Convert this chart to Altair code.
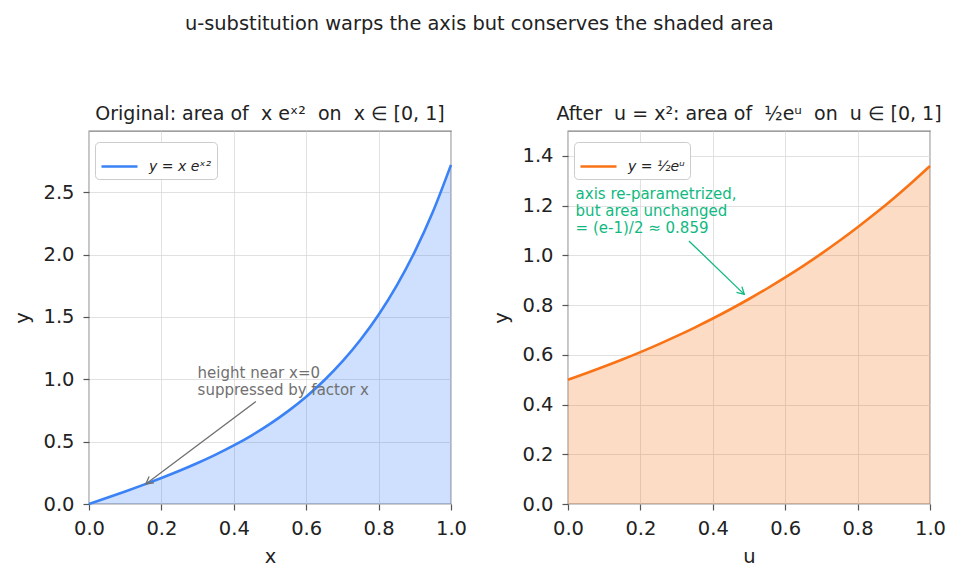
import altair as alt
import pandas as pd

x_vals = [0.0, 0.05, 0.1, 0.15, 0.2, 0.25, 0.3, 0.35, 0.4, 0.45, 0.5,
          0.55, 0.6, 0.65, 0.7, 0.75, 0.8, 0.85, 0.9, 0.95, 1.0]
y_left = [0.0, 0.0501, 0.1010, 0.1534, 0.2082, 0.2661, 0.3283, 0.3956, 0.4694,
          0.5510, 0.6420, 0.7443, 0.8600, 0.9918, 1.1426, 1.3163, 1.5172,
          1.7506, 2.0231, 2.3425, 2.7183]
u_vals = [0.0, 0.05, 0.1, 0.15, 0.2, 0.25, 0.3, 0.35, 0.4, 0.45, 0.5,
          0.55, 0.6, 0.65, 0.7, 0.75, 0.8, 0.85, 0.9, 0.95, 1.0]
y_right = [0.5, 0.5256, 0.5526, 0.5809, 0.6107, 0.6420, 0.6749, 0.7095, 0.7459,
           0.7842, 0.8244, 0.8666, 0.9111, 0.9578, 1.0069, 1.0585, 1.1128,
           1.1699, 1.2298, 1.2929, 1.3591]

x_ticks = [0.0, 0.2, 0.4, 0.6, 0.8, 1.0]
y_ticks_left = [0.0, 0.5, 1.0, 1.5, 2.0, 2.5]
y_ticks_right = [0.0, 0.2, 0.4, 0.6, 0.8, 1.0, 1.2, 1.4]

NB = "\u00a0"
left_label = "y = x eˣ²"
right_label = "y = ½eᵘ"

left_note = ["height near x=0", "suppressed by factor x"]
left_note_pos = [0.30, 1.014]
left_arrow = [0.461, 0.822, 0.157, 0.161]  # tail x, tail y, head x, head y

right_note = ["axis re-parametrized,", "but area unchanged", "= (e-1)/2 ≈ 0.859"]
right_note_pos = [0.021, 1.226]
right_arrow = [0.334, 1.058, 0.487, 0.843]

suptitle = "u-substitution warps the axis but conserves the shaded area"
left_title = f"Original: area of {NB}x eˣ²{NB} on {NB}x ∈ [0, 1]"
right_title = f"After {NB}u = x²: area of {NB}½eᵘ{NB} on {NB}u ∈ [0, 1]"

BLUE = "#3b82f6"
ORANGE = "#f97316"
GREEN = "#10b981"
FONT = "DejaVu Sans"

W, H = 362, 373


def panel(xs, ys, xname, ydomain, yticks, color, label, title,
          note, note_pos, arrow, note_color, arrow_angle):
    df = pd.DataFrame({"x": xs, "y": ys, "series": [label] * len(xs)})
    xenc = alt.X("x:Q", title=xname, scale=alt.Scale(domain=[0, 1], nice=False),
                 axis=alt.Axis(values=x_ticks, format=".1f"))
    yenc = alt.Y("y:Q", title="y", scale=alt.Scale(domain=ydomain, nice=False),
                 axis=alt.Axis(values=yticks, format=".1f"))
    base = alt.Chart(df)
    area = base.mark_area(color=color, opacity=0.25,
                          interpolate="monotone").encode(x=xenc, y=yenc)
    line = base.mark_line(strokeWidth=2.6, interpolate="monotone").encode(
        x=xenc, y=yenc,
        color=alt.Color("series:N",
                        scale=alt.Scale(domain=[label], range=[color]),
                        legend=alt.Legend(title=None, orient="none",
                                          legendX=6, legendY=11)))
    adf = pd.DataFrame({"x": [arrow[0]], "y": [arrow[1]],
                        "x2": [arrow[2]], "y2": [arrow[3]]})
    shaft = alt.Chart(adf).mark_rule(color=note_color, strokeWidth=1.3).encode(
        x="x:Q", y="y:Q", x2="x2:Q", y2="y2:Q")
    head = alt.Chart(adf).mark_point(
        shape="M-0.55,1L0,0L0.55,1", filled=False, size=200,
        strokeWidth=1.3, color=note_color, opacity=1, angle=arrow_angle
    ).encode(x="x2:Q", y="y2:Q")
    tdf = pd.DataFrame({"x": [note_pos[0]], "y": [note_pos[1]], "t": [note]})
    text = alt.Chart(tdf).mark_text(
        align="left", baseline="alphabetic", fontSize=15, font=FONT,
        color=note_color, lineHeight=17
    ).encode(x="x:Q", y="y:Q", text="t")
    return alt.layer(area, line, shaft, head, text).properties(
        width=W, height=H,
        title=alt.TitleParams(title, fontSize=19, font=FONT,
                              fontWeight="normal", color="#222222",
                              baseline="alphabetic", offset=-8))


left = panel(x_vals, y_left, "x", [0, 2.99], y_ticks_left, BLUE, left_label,
             left_title, left_note, left_note_pos, left_arrow, "#707070", 233)
right = panel(u_vals, y_right, "u", [0, 1.5], y_ticks_right, ORANGE, right_label,
              right_title, right_note, right_note_pos, right_arrow, GREEN, 134)

chart = alt.hconcat(left, right, spacing=117, bounds="flush").resolve_scale(
    color="independent"
).properties(
    title=alt.TitleParams(suptitle, fontSize=19.4, font=FONT, fontWeight="normal",
                          color="#222222", anchor="middle", offset=70),
    padding={"left": 12, "top": 13, "right": 10, "bottom": 8},
).configure(
    font=FONT
).configure_view(
    stroke="#808080", strokeWidth=1.3
).configure_axis(
    domain=False, grid=True, gridColor="#d9d9d9", gridWidth=0.8,
    tickColor="#555555", tickSize=6, tickWidth=1.2,
    labelFont=FONT, labelFontSize=19.5, labelColor="#222222", labelPadding=9,
    titleFont=FONT, titleFontSize=19.5, titleFontWeight="normal",
    titleColor="#222222", titlePadding=10, labelFlush=False
).configure_legend(
    fillColor="white", strokeColor="#cccccc", cornerRadius=4, padding=5,
    symbolType="stroke", symbolSize=1296, symbolStrokeWidth=2.6,
    labelFont=FONT, labelFontSize=14, labelFontStyle="italic",
    labelColor="#222222", labelOffset=10
)

chart.save("out.html", embed_options={"renderer": "svg", "actions": False})
